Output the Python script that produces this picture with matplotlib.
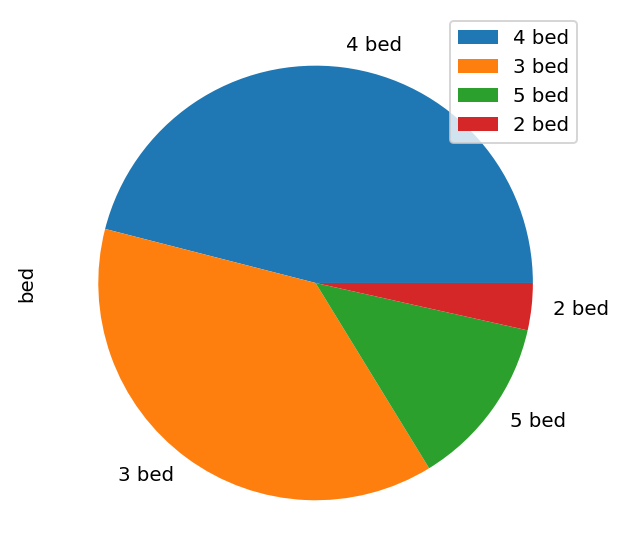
import matplotlib
matplotlib.use("Agg")
import matplotlib.pyplot as plt

# bedroom counts
labels = ["4 bed", "3 bed", "5 bed", "2 bed"]
counts = [184, 151, 51, 14]
colors = ["#1f77b4", "#ff7f0e", "#2ca02c", "#d62728"]

dpi = 142
fig = plt.figure(figsize=(640 / dpi, 540 / dpi), dpi=dpi)
ax = fig.add_axes([0.0686, -0.027, 0.849, 1.006])

ax.pie(counts, labels=labels, colors=colors)
ax.set_ylabel("bed")
ax.legend(loc="upper right")

fig.savefig("out.png", dpi=dpi)
